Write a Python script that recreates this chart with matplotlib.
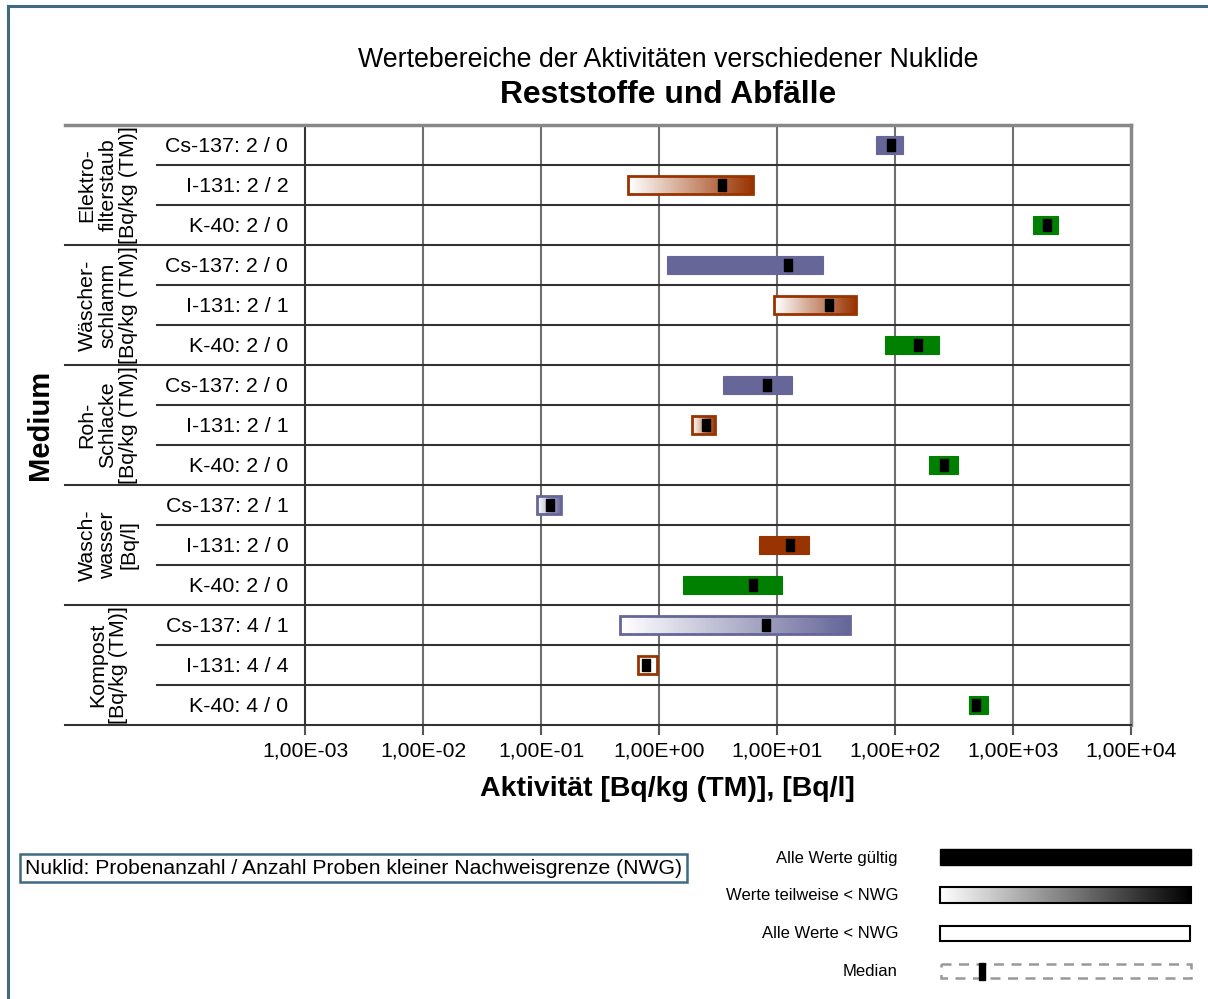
import numpy as np
import matplotlib
matplotlib.use('Agg')
import matplotlib.pyplot as plt
from matplotlib.patches import Rectangle
from matplotlib.ticker import FixedLocator, FuncFormatter
from matplotlib.colors import to_rgb

plt.rcParams['font.family'] = ['Liberation Sans', 'DejaVu Sans']

# Data
groups = ['Elektro-\nfilterstaub\n[Bq/kg (TM)]',
          'Wäscher-\nschlamm\n[Bq/kg (TM)]',
          'Roh-\nSchlacke\n[Bq/kg (TM)]',
          'Wasch-\nwasser\n[Bq/l]',
          'Kompost\n[Bq/kg (TM)]']
nuclides = ['Cs-137', 'I-131', 'K-40']
n_samples = [2, 2, 2, 2, 2, 2, 2, 2, 2, 2, 2, 2, 4, 4, 4]
n_nwg = [0, 2, 0, 0, 1, 0, 0, 1, 0, 1, 0, 0, 1, 4, 0]
low = [68.6, 0.55, 1473, 1.18, 9.5, 83, 3.52, 1.92, 193, 0.093, 7.1, 1.61, 0.47, 0.67, 422]
high = [116, 6.3, 2404, 24.4, 46.5, 235, 13.3, 3.01, 340, 0.149, 18.5, 11.1, 41.3, 0.97, 612]
median = [92, 3.45, 1937, 12.5, 27.4, 156, 8.3, 2.48, 259, 0.12, 12.8, 6.3, 8.0, 0.77, 484]
status = ['gültig', 'teilweise', 'gültig',
          'gültig', 'teilweise', 'gültig',
          'gültig', 'teilweise', 'gültig',
          'teilweise', 'gültig', 'gültig',
          'teilweise', 'keine', 'gültig']
decades = [1e-3, 1e-2, 1e-1, 1e0, 1e1, 1e2, 1e3, 1e4]

colors = {'Cs-137': '#666699', 'I-131': '#993300', 'K-40': '#008000'}
W, H = 1208, 999
fig = plt.figure(figsize=(W / 100, H / 100), dpi=100)

# outer frame (only top and left visible)
fig.add_artist(plt.Line2D([8 / W, 8 / W], [0, 1 - 6 / H], color='#3F6A80', lw=2.2))
fig.add_artist(plt.Line2D([8 / W, 1], [1 - 6 / H, 1 - 6 / H], color='#3F6A80', lw=2.2))

ax = fig.add_axes([305 / W, 1 - 725 / H, 826 / W, 600 / H])
ax.set_xscale('log')
ax.set_xlim(decades[0], decades[-1])
nrows = len(low)
ax.set_ylim(nrows - 0.5, -0.5)

rows = np.arange(nrows)
row_labels = [f'{nuclides[i % 3]}: {n_samples[i]} / {n_nwg[i]}' for i in rows]
bar_h = 0.45

for i in rows:
    c = colors[nuclides[i % 3]]
    if status[i] == 'gültig':
        ax.barh(i, high[i] - low[i], left=low[i], height=bar_h, color=c,
                edgecolor=c, lw=0.8, zorder=3)
    elif status[i] == 'teilweise':
        edges = np.geomspace(low[i], high[i], 80)
        frac = np.linspace(0, 1, len(edges) - 1)
        rgb = np.array(to_rgb(c))
        cols = [tuple(1 - f * (1 - rgb)) for f in frac]
        ax.barh([i] * (len(edges) - 1), np.diff(edges), left=edges[:-1],
                height=bar_h, color=cols, lw=0, zorder=3)
        ax.barh(i, high[i] - low[i], left=low[i], height=bar_h, fill=False,
                edgecolor=c, lw=2, zorder=4)
    else:
        ax.barh(i, high[i] - low[i], left=low[i], height=bar_h, color='white',
                edgecolor=c, lw=2, zorder=4)

med_marker = [(-1, -1.5), (1, -1.5), (1, 1.5), (-1, 1.5), (-1, -1.5)]
ax.plot(median, rows, ls='none', marker=med_marker, markersize=9,
        color='black', zorder=5)

# grid & table lines
for d in decades[1:-1]:
    ax.axvline(d, color='#6f6f6f', lw=1.5, zorder=1)
ytr = ax.get_yaxis_transform()
for b in np.arange(0.5, nrows - 1, 1):
    if (b + 0.5) % 3 == 0:
        ax.plot([-240 / 826, 1], [b, b], color='#333333', lw=1.5,
                transform=ytr, clip_on=False, zorder=2)
    else:
        ax.plot([-148 / 826, 1], [b, b], color='#333333', lw=1.5,
                transform=ytr, clip_on=False, zorder=2)
ax.plot([-240 / 826, 1], [nrows - 0.5] * 2, color='#333333', lw=1.5,
        transform=ytr, clip_on=False, zorder=6)
ax.plot([-240 / 826, 1], [-0.5] * 2, color='#888888', lw=2.5,
        transform=ytr, clip_on=False, zorder=6)

for s in ['top', 'right']:
    ax.spines[s].set_color('#888888')
    ax.spines[s].set_linewidth(2.5)
ax.spines['top'].set_visible(False)
ax.spines['left'].set_color('#333333')
ax.spines['left'].set_linewidth(1.5)
ax.spines['bottom'].set_visible(False)

ax.set_yticks(rows)
ax.set_yticklabels(row_labels, fontsize=15.4)
ax.tick_params(axis='y', length=0, pad=12)
ax.xaxis.set_major_locator(FixedLocator(decades))
ax.xaxis.set_minor_locator(FixedLocator([]))
ax.xaxis.set_major_formatter(FuncFormatter(lambda v, p: f'{v:.2E}'.replace('.', ',')))
ax.tick_params(axis='x', length=7, width=1.5, color='#555555', labelsize=15.2, pad=5)

for g, name in enumerate(groups):
    ax.text(-197 / 826, g * 3 + 1, name, transform=ytr, rotation=90,
            ha='center', va='center', multialignment='center',
            fontsize=15.4, linespacing=1.12)

fig.text(40 / W, 1 - 425 / H, 'Medium', rotation=90, ha='center', va='center',
         fontsize=21, fontweight='bold')
fig.text(668 / W, 1 - 60 / H, 'Wertebereiche der Aktivitäten verschiedener Nuklide',
         ha='center', va='center', fontsize=19.3)
fig.text(668 / W, 1 - 95 / H, 'Reststoffe und Abfälle', ha='center', va='center',
         fontsize=22.9, fontweight='bold')
fig.text(667 / W, 1 - 789 / H, 'Aktivität [Bq/kg (TM)], [Bq/l]', ha='center',
         va='center', fontsize=20.5, fontweight='bold')

fig.text(25 / W, 1 - 868 / H,
         'Nuklid: Probenanzahl / Anzahl Proben kleiner Nachweisgrenze (NWG)',
         ha='left', va='center', fontsize=15.2,
         bbox=dict(boxstyle='square,pad=0.22', fc='white', ec='#3F6A80', lw=1.8))

# legend
leg = fig.add_axes([930 / W, 1 - 995 / H, 270 / W, 155 / H])
leg.set_xlim(930, 1200)
leg.set_ylim(995, 840)
leg.axis('off')
leg_labels = ['Alle Werte gültig', 'Werte teilweise < NWG', 'Alle Werte < NWG', 'Median']
leg_y = [858, 896, 934, 972]
for lab, y in zip(leg_labels, leg_y):
    fig.text(898 / W, 1 - y / H, lab, ha='right', va='center', fontsize=12)
leg.add_patch(Rectangle((940, 849), 251, 16, color='black'))
grad = np.linspace(1, 0, 256)[None, :]
leg.imshow(grad, cmap='gray', vmin=0, vmax=1, extent=(940, 1191, 903, 887),
           aspect='auto', zorder=1)
leg.add_patch(Rectangle((940, 887), 251, 16, fill=False, ec='black', lw=1.5, zorder=2))
leg.add_patch(Rectangle((940, 926), 250, 15, fc='white', ec='black', lw=1.5))
leg.add_patch(Rectangle((941, 964), 250, 14, fill=False, ec='#999999', lw=1.8,
                        ls=(0, (4, 3))))
leg.add_patch(Rectangle((978.5, 963), 6, 17, color='black', zorder=3))

fig.savefig('out.png', dpi=100)
